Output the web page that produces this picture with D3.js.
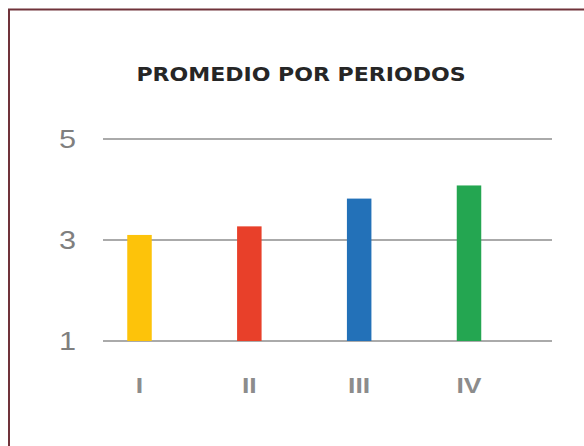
<!DOCTYPE html>
<html><head><meta charset="utf-8">
<script src="https://cdn.jsdelivr.net/npm/d3@7"></script>
<style>html,body{margin:0;padding:0;background:#fff;overflow:hidden}</style>
</head><body>
<script>
const categories = ["I", "II", "III", "IV"];
const values = [3.1, 3.27, 3.82, 4.08];
const colors = ["#FDC30A", "#E8402A", "#2371B8", "#24A651"];
const yTicks = [1, 3, 5];
const title = "PROMEDIO POR PERIODOS";

const W = 584, H = 446;
const SX = 1.18; // horizontal stretch of the original
const svg = d3.select("body").append("svg").attr("width", W).attr("height", H);

svg.append("rect").attr("x", 9).attr("y", 9.5).attr("width", 600).attr("height", 460)
  .attr("fill", "#fff").attr("stroke", "#70333a").attr("stroke-width", 2);

svg.append("text").attr("transform", `translate(301,80.5) scale(1.16,1)`).attr("text-anchor", "middle")
  .attr("font-family", "DejaVu Sans").attr("font-weight", "bold").attr("font-size", 19)
  .attr("fill", "#262626").text(title);

const y = d3.scaleLinear().domain([1, 5]).range([341, 139]);
const x = d3.scalePoint().domain(categories).range([139.5, 469]);
const barW = 24.5;

const grid = svg.append("g");
grid.selectAll("line").data(yTicks).join("line")
  .attr("x1", 103).attr("x2", 552)
  .attr("y1", d => y(d)).attr("y2", d => y(d))
  .attr("stroke", "#aaaaaa").attr("stroke-width", 2);

svg.append("g").selectAll("text").data(yTicks).join("text")
  .attr("transform", d => `translate(67.5,${y(d) + 9}) scale(${SX},1)`).attr("text-anchor", "middle")
  .attr("font-family", "Liberation Sans").attr("font-size", 26).attr("fill", "#7f7f7f")
  .text(d => d);

svg.append("g").selectAll("rect").data(values).join("rect")
  .attr("x", (d, i) => x(categories[i]) - barW / 2)
  .attr("width", barW)
  .attr("y", d => y(d))
  .attr("height", d => y(1) - y(d))
  .attr("fill", (d, i) => colors[i]);

svg.append("g").selectAll("text").data(categories).join("text")
  .attr("transform", d => `translate(${x(d)},393.3) scale(${SX},1)`).attr("text-anchor", "middle")
  .attr("font-family", "Liberation Sans").attr("font-weight", "bold").attr("font-size", 22.5)
  .attr("fill", "#8c8c8c").text(d => d);
</script>
</body></html>
